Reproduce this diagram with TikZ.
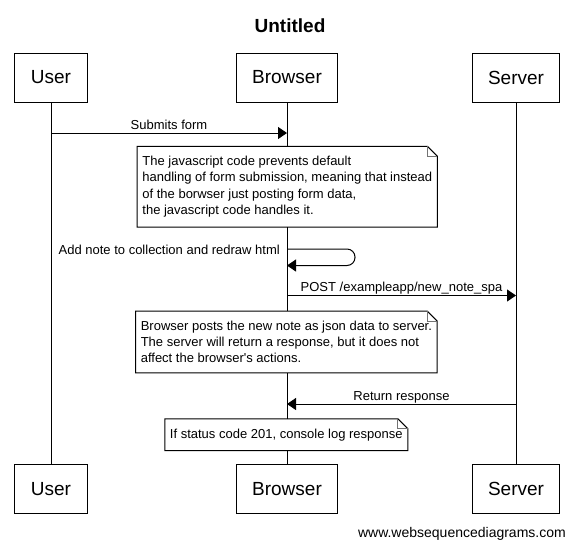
\documentclass[tikz,border=0pt]{standalone}
\usepackage{fontspec}
\setmainfont{Liberation Sans}
\usetikzlibrary{arrows.meta}
\newcommand{\msgfont}{\fontsize{13}{16.3}\selectfont}
\newcommand{\actfont}{\fontsize{19}{23}\selectfont}
\newcommand{\foldnote}[1]{%
  \draw[line width=1pt] (#1.north west) -- ([xshift=-10pt]#1.north east) -- ([yshift=-10pt]#1.north east) -- (#1.south east) -- (#1.south west) -- cycle;
  \draw[black!55, line width=0.8pt] ([xshift=-10pt]#1.north east) |- ([yshift=-10pt]#1.north east);
}

\begin{document}
\begin{tikzpicture}[x=1pt, y=-1pt,
  actor/.style={draw, line width=1pt, minimum height=49pt, inner xsep=16pt, font=\actfont},
  msg/.style={-{Triangle[length=9pt,width=12pt]}, line width=1pt},
  lbl/.style={anchor=base, yshift=4pt, inner sep=0pt, font=\msgfont},
  note/.style={fill=white, align=left, inner xsep=5pt, inner ysep=9.7pt, font=\msgfont}]

    \useasboundingbox (0,0) rectangle (575,547);
    \fill[white] (0,0) rectangle (575,547);

    \node[anchor=base, font=\fontsize{19}{23}\selectfont\bfseries] (title) at (290,32) {Untitled};

    % actors, top and bottom
    \node[actor] (usr-t) at (51,77.5) {User};
    \node[actor] (brw-t) at (287,77.5) {Browser};
    \node[actor] (srv-t) at (516,77.5) {Server};
    \node[actor] (usr-b) at (51,489) {User};
    \node[actor] (brw-b) at (287,489) {Browser};
    \node[actor] (srv-b) at (516,489) {Server};

    \draw[line width=1pt] (usr-t) -- (usr-b);
    \draw[line width=1pt] (brw-t) -- (brw-b);
    \draw[line width=1pt] (srv-t) -- (srv-b);

    % points on the lifelines
    \coordinate (sub-u) at (51,133);
    \coordinate (sub-b) at (287,133);
    \coordinate (loop-a) at (287,249);
    \coordinate (loop-b) at (287,265.5);
    \coordinate (post-b) at (287,295.5);
    \coordinate (post-s) at (516,295.5);
    \coordinate (ret-s) at (516,404);
    \coordinate (ret-b) at (287,404);

    \draw[msg] (sub-u) -- node[lbl] (lbl-sub) {Submits form} (sub-b);

    \node[note] (n1) at (287.3,186.7) {The javascript code prevents default\\handling of form submission, meaning that instead\\of the borwser just posting form data,\\the javascript code handles it.};
    \foldnote{n1}

    \draw[msg, rounded corners=8pt] (loop-a) -- ++(68,0) -- ++(0,16.5) -- (loop-b);
    \node[font=\msgfont, inner sep=0pt, anchor=base east] (lbl-loop) at (280,254) {Add note to collection and redraw html};

    \draw[msg] (post-b) -- node[lbl] (lbl-post) {POST /exampleapp/new\_note\_spa} (post-s);

    \node[note] (n2) at (286.4,342) {Browser posts the new note as json data to server.\\The server will return a response, but it does not\\affect the browser\textquotesingle s actions.};
    \foldnote{n2}

    \draw[msg] (ret-s) -- node[lbl] (lbl-ret) {Return response} (ret-b);

    \node[note] (n3) at (286.3,434.7) {If status code 201, console log response};
    \foldnote{n3}

    \node[anchor=base east, inner sep=0pt, font=\fontsize{14}{17}\selectfont] (wsd) at (566,537) {www.websequencediagrams.com};

\end{tikzpicture}
\end{document}
